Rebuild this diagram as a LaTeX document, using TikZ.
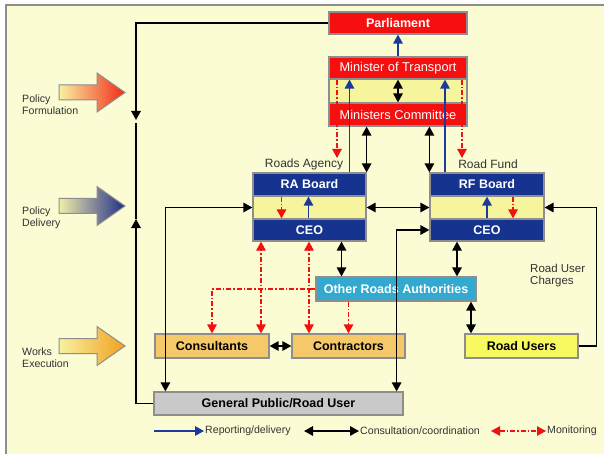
\documentclass[tikz,border=0pt]{standalone}
\usepackage{fontspec}
\setmainfont{Liberation Sans}
\usetikzlibrary{arrows.meta}
\definecolor{bgy}{HTML}{FBFBD4}
\definecolor{bandy}{HTML}{F6F49C}
\definecolor{rbox}{HTML}{F50F0F}
\definecolor{nbox}{HTML}{16338F}
\definecolor{cbox}{HTML}{33A9CF}
\definecolor{obox}{HTML}{F5C86A}
\definecolor{ybox}{HTML}{F8F860}
\definecolor{gbox}{HTML}{C9C9C9}
\definecolor{bord}{HTML}{8E8E8E}
\definecolor{blu}{HTML}{1A3A9C}
\definecolor{rd}{HTML}{F21010}
\definecolor{lbltxt}{HTML}{333333}
\tikzset{
  box/.style={draw=bord, line width=1.2pt, inner sep=0pt, font=\fontsize{12.5}{14}\selectfont\bfseries},
  redbox/.style={box, fill=rbox, text=white, font=\fontsize{12.8}{14}\selectfont},
  bandbox/.style={box, fill=bandy},
  navybox/.style={box, fill=nbox, text=white},
  cyanbox/.style={box, fill=cbox, text=white},
  orangebox/.style={box, fill=obox, text=black},
  yellowbox/.style={box, fill=ybox, text=black},
  greybox/.style={box, fill=gbox, text=black},
  lbl/.style={inner sep=1pt, text=lbltxt, font=\fontsize{10.6}{12}\selectfont},
  toplbl/.style={inner sep=1pt, text=lbltxt, font=\fontsize{12}{13}\selectfont},
  blk/.style={line width=1.4pt, black},
  bluline/.style={line width=1.4pt, blu},
  mon/.style={line width=1.2pt, rd, dash pattern=on 5pt off 2pt on 1.5pt off 2pt},
  bigarrow/.style={draw=bord, line width=1pt}
}
\begin{document}
\begin{tikzpicture}[x=1pt, y=-1pt, >={Triangle[length=9pt,width=9.5pt]}]
\useasboundingbox (0,0) rectangle (604,454);
\fill[white] (0,0) rectangle (604,454);
\path[fill=bgy, draw=bord, line width=1.5pt] (6,5) rectangle (610,460);

% policy arrows
\path[bigarrow, left color={rgb,255:red,248;green,242;blue,160}, right color={rgb,255:red,242;green,42;blue,26}]
  (59,85) -- (97,85) -- (97,73) -- (125,92.5) -- (97,112) -- (97,100) -- (59,100) -- cycle;
\path[bigarrow, left color={rgb,255:red,242;green,238;blue,168}, right color={rgb,255:red,31;green,47;blue,138}]
  (59,198.5) -- (97,198.5) -- (97,186.5) -- (125,206) -- (97,225.5) -- (97,213.5) -- (59,213.5) -- cycle;
\path[bigarrow, left color={rgb,255:red,248;green,242;blue,160}, right color={rgb,255:red,240;green,160;blue,32}]
  (59,338.5) -- (97,338.5) -- (97,326.5) -- (125,346) -- (97,365.5) -- (97,353.5) -- (59,353.5) -- cycle;
\node[lbl, align=left, anchor=west] (pfl) at (21,105) {Policy\\Formulation};
\node[lbl, align=left, anchor=west] (pdl) at (21,218) {Policy\\Delivery};
\node[lbl, align=left, anchor=west] (wel) at (21,358) {Works\\Execution};

% boxes
\node[redbox, font=\fontsize{12.5}{14}\selectfont\bfseries, minimum width=138pt, minimum height=22pt] (parl) at (398,23) {Parliament};
\node[redbox, minimum width=138pt, minimum height=22pt] (mot) at (398,68) {Minister of Transport};
\node[bandbox, minimum width=138pt, minimum height=24pt] (band1) at (398,91) {};
\node[redbox, minimum width=138pt, minimum height=23pt] (mc) at (398,114.5) {Ministers Committee};

\node[navybox, minimum width=113pt, minimum height=23pt] (raboard) at (309.5,184.5) {RA Board};
\node[bandbox, minimum width=113pt, minimum height=23pt] (raband) at (309.5,207.5) {};
\node[navybox, minimum width=113pt, minimum height=22pt] (raceo) at (309.5,230) {CEO};
\node[navybox, minimum width=114pt, minimum height=23pt] (rfboard) at (487,184.5) {RF Board};
\node[bandbox, minimum width=114pt, minimum height=23pt] (rfband) at (487,207.5) {};
\node[navybox, minimum width=114pt, minimum height=22pt] (rfceo) at (487,230) {CEO};

\node[toplbl] (ral) at (304,164) {Roads Agency};
\node[toplbl] (rfl) at (488,164) {Road Fund};

\node[cyanbox, minimum width=160pt, minimum height=24pt] (ora) at (396,289) {Other Roads Authorities};
\node[orangebox, minimum width=114pt, minimum height=24pt] (cons) at (212,346) {Consultants};
\node[orangebox, minimum width=113pt, minimum height=24pt] (contr) at (348.5,346) {Contractors};
\node[yellowbox, minimum width=113pt, minimum height=24pt] (ru) at (521.5,346) {Road Users};
\node[greybox, minimum width=249pt, minimum height=23pt] (gp) at (278.5,403.5) {General Public/Road User};

\node[lbl, align=left, anchor=west, font=\fontsize{11.5}{12}\selectfont] (ruc) at (529,276) {Road User\\Charges};

% Parliament / policy loop
\coordinate (pf) at (136,120);
\coordinate (pd) at (136,219);
\coordinate (pt) at (136,123);
\draw[blk,->] (parl.west) -| (pf);
\draw[blk,->] (gp.west) -| (pd);
\draw[blk] (pd) -- (pt);

% ministers
\draw[bluline,->] (mot.north) -- (parl.south);
\draw[blk,<->] (mot.south) -- (mc.north);
\coordinate (b1) at ([xshift=40pt]raboard.north);
\coordinate (b2) at ([xshift=-42pt]rfboard.north);
\draw[bluline,->] (b1) -- (b1 |- mot.south);
\draw[bluline,->] (b2) -- (b2 |- mot.south);
\draw[blk,<->] (raboard.north east |- mc.south) -- (raboard.north east);
\draw[blk,<->] (rfboard.north west |- mc.south) -- (rfboard.north west);
\coordinate (r1) at (337,158);
\coordinate (r2) at (462,158);
\draw[mon,->] (r1 |- mot.south) -- (r1);
\draw[mon,->] (r2 |- mot.south) -- (r2);

% inside RA / RF
\coordinate (r3) at ([xshift=-28pt]raboard.south);
\draw[mon,->] (r3) -- (r3 |- raceo.north);
\coordinate (b3) at ([xshift=-1pt]raceo.north);
\draw[bluline,->] (b3) -- (b3 |- raboard.south);
\draw[bluline,->] (rfceo.north) -- (rfboard.south);
\coordinate (r4) at ([xshift=26pt]rfboard.south);
\draw[mon,->] (r4) -- (r4 |- rfceo.north);

% black coordination
\draw[blk,<->] (raband.east) -- (rfband.west);
\draw[blk,<->] ([xshift=12pt]gp.north west) |- (raband.west);
\draw[blk,<->] ([xshift=-7pt]gp.north east) |- (rfceo.west);
\coordinate (k1) at ([xshift=32pt]raceo.south);
\draw[blk,<->] (k1) -- (k1 |- ora.north);
\coordinate (k2) at ([xshift=-30pt]rfceo.south);
\draw[blk,<->] (k2) -- (k2 |- ora.north);
\coordinate (k3) at ([xshift=-50.5pt]ru.north);
\draw[blk,<->] (k3 |- ora.south) -- (k3);
\draw[blk,<->] (cons.east) -- (contr.west);
\draw[blk,->] (ru.east) -- ++(18,0) |- (rfband.east);

% monitoring
\coordinate (m1) at ([xshift=49pt]cons.north);
\draw[mon,<->] (m1) -- (m1 |- raceo.south);
\coordinate (m2) at ([xshift=-39.5pt]contr.north);
\draw[mon,<->] (m2) -- (m2 |- raceo.south);
\draw[mon,->] (ora.west) -| (cons.north);
\draw[mon,->] (contr.north |- ora.south) -- (contr.north);

% legend
\node[lbl, anchor=west] (lg1) at (204,431) {Reporting/delivery};
\coordinate (lg1s) at (154,431);
\draw[bluline,->] (lg1s) -- (lg1.west);
\node[lbl, anchor=west] (lg2) at (359,431) {Consultation/coordination};
\coordinate (lg2s) at (304,431);
\draw[blk,<->] (lg2s) -- (lg2.west);
\node[lbl, anchor=west] (lg3) at (546,431) {Monitoring};
\coordinate (lg3s) at (491,431);
\draw[mon,<->] (lg3s) -- (lg3.west);
\end{tikzpicture}
\end{document}
